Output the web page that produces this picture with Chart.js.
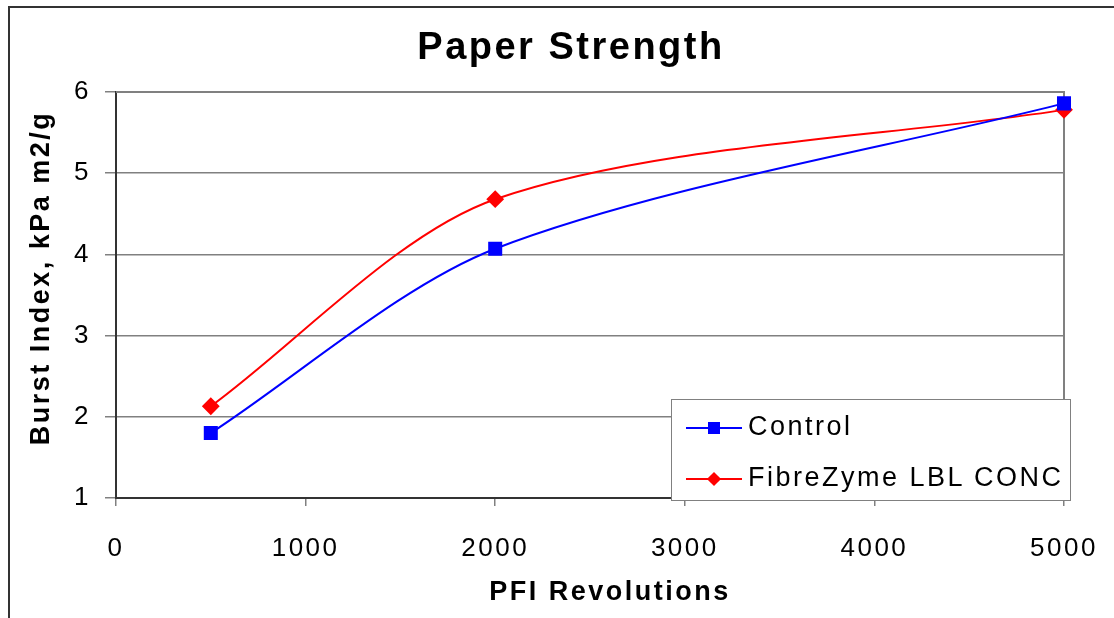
<!DOCTYPE html>
<html>
<head>
<meta charset="utf-8">
<script src="https://cdn.jsdelivr.net/npm/chart.js@4/dist/chart.umd.min.js"></script>
<style>
  body { margin: 0; background: white; font-family: "Liberation Sans", Arial, sans-serif; }
  #wrap { position: relative; width: 1114px; height: 618px; overflow: hidden; }
  #frame { position: absolute; left: 8px; top: 6px; width: 1200px; height: 700px;
           border-left: 2px solid #333; border-top: 2px solid #333; pointer-events: none; }
  .ttl { position: absolute; font-weight: bold; color: #000; white-space: nowrap; letter-spacing: 2.5px; }
  #title { left: 371px; width: 400px; top: 25px; text-align: center; font-size: 38px; }
  #xTitle { left: 410px; width: 400px; top: 576px; text-align: center; font-size: 27px; }
  #yTitle { left: 40px; top: 278px; font-size: 27px; transform: translate(-50%, -50%) rotate(-90deg); }
  #legend { position: absolute; left: 671px; top: 399px; width: 400px; height: 102px;
            background: white; border: 1px solid #808080; box-sizing: border-box; }
  .item { position: absolute; left: 14px; height: 30px; font-size: 27px; letter-spacing: 2.5px; color: #000; }
  .item .line { position: absolute; left: 0; top: 14px; width: 56px; height: 2px; }
  .item .mark { position: absolute; }
  .item span { position: absolute; left: 62px; top: -2px; white-space: nowrap; }
</style>
</head>
<body>
<div id="wrap">
  <canvas id="chart" width="1114" height="618"></canvas>
  <div id="frame"></div>
  <div class="ttl" id="title">Paper Strength</div>
  <div class="ttl" id="xTitle">PFI Revolutions</div>
  <div class="ttl" id="yTitle">Burst Index, kPa m2/g</div>
  <div id="legend">
    <div class="item" style="top:13px">
      <div class="line" style="background:#0000ff"></div>
      <div class="mark" style="left:22px;top:9px;width:12px;height:12px;background:#0000ff"></div>
      <span>Control</span>
    </div>
    <div class="item" style="top:64px">
      <div class="line" style="background:#ff0000"></div>
      <div class="mark" style="left:23px;top:10px;width:10px;height:10px;background:#ff0000;transform:rotate(45deg)"></div>
      <span>FibreZyme LBL CONC</span>
    </div>
  </div>
</div>
<script>
// values
const revolutions = [500, 2000, 5000];
const control = [1.80, 4.07, 5.86];
const fibreZyme = [2.13, 4.68, 5.78];
const xTicks = [0, 1000, 2000, 3000, 4000, 5000];
const yTicks = [1, 2, 3, 4, 5, 6];

function points(ys) {
  return revolutions.map(function (x, i) { return { x: x, y: ys[i] }; });
}

// the original text is rather wide, so space the letters a little
const wideText = {
  id: "wideText",
  beforeUpdate(chart) { chart.ctx.letterSpacing = "2.5px"; },
  beforeDraw(chart) { chart.ctx.letterSpacing = "2.5px"; }
};

// gray frame on top and right side of the plot
const plotFrame = {
  id: "plotFrame",
  beforeDatasetsDraw(chart) {
    const a = chart.chartArea, c = chart.ctx;
    c.save();
    c.strokeStyle = "#808080";
    c.lineWidth = 2;
    c.beginPath();
    c.moveTo(a.left, a.top);
    c.lineTo(a.right, a.top);
    c.lineTo(a.right, a.bottom);
    c.stroke();
    c.restore();
  }
};

Chart.defaults.font.family = "'Liberation Sans', Arial, sans-serif";
Chart.defaults.color = "#000";

new Chart(document.getElementById("chart").getContext("2d"), {
  type: "line",
  data: {
    datasets: [
      {
        label: "Control",
        data: points(control),
        borderColor: "#0000ff",
        backgroundColor: "#0000ff",
        borderWidth: 2,
        pointStyle: "rect",
        pointRadius: 8.5,
        tension: 0.3,
        clip: false
      },
      {
        label: "FibreZyme LBL CONC",
        data: points(fibreZyme),
        borderColor: "#ff0000",
        backgroundColor: "#ff0000",
        borderWidth: 2,
        pointStyle: "rectRot",
        pointRadius: 7.5,
        tension: 0.3,
        clip: false
      }
    ]
  },
  options: {
    responsive: false,
    animation: false,
    devicePixelRatio: 1,
    layout: { padding: { left: 10, right: 50, top: 92, bottom: 6 } },
    plugins: {
      legend: { display: false },
      tooltip: { enabled: false },
      title: { display: false }
    },
    scales: {
      x: {
        type: "linear",
        min: 0,
        max: 5000,
        afterBuildTicks(s) { s.ticks = xTicks.map(function (v) { return { value: v }; }); },
        afterFit(s) { s.height = 114; s.paddingLeft = 0; s.paddingRight = 0; },
        ticks: { font: { size: 26 }, padding: 27, maxRotation: 0, callback: function (v) { return String(v); } },
        grid: { drawOnChartArea: false, drawTicks: true, tickLength: 8, color: "#808080", lineWidth: 1.5 },
        border: { color: "#333", width: 2 }
      },
      y: {
        min: 1,
        max: 6,
        afterBuildTicks(s) { s.ticks = yTicks.map(function (v) { return { value: v }; }); },
        afterFit(s) { s.width = 106; s.paddingTop = 0; s.paddingBottom = 0; },
        ticks: { font: { size: 26 }, padding: 14 },
        grid: { color: "#808080", lineWidth: 1.5, tickLength: 11 },
        border: { color: "#333", width: 2 }
      }
    }
  },
  plugins: [wideText, plotFrame]
});
</script>
</body>
</html>
